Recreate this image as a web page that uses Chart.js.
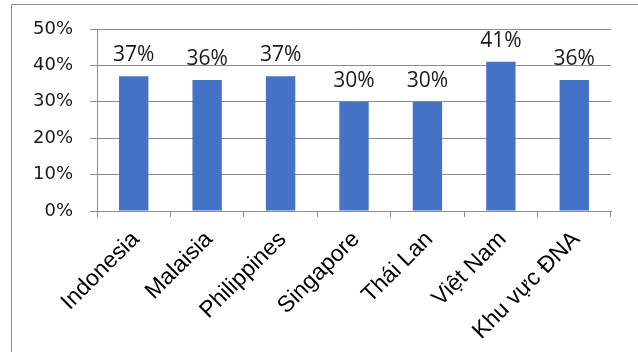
<!DOCTYPE html>
<html>
<head>
<meta charset="utf-8">
<script src="https://cdn.jsdelivr.net/npm/chart.js@4"></script>
<style>
  body { margin: 0; background: #fff; }
  canvas { display: block; }
</style>
</head>
<body>
<canvas id="myChart" width="638" height="352"></canvas>
<script>
const countries = ['Indonesia', 'Malaisia', 'Philippines', 'Singapore', 'Thái Lan', 'Việt Nam', 'Khu vực ĐNA'];
const shares = [37, 36, 37, 30, 30, 41, 36];
const yTicks = [0, 10, 20, 30, 40, 50];

const barBlue = '#4472C4';
const lineGray = '#8c8c8c';

// frame around the chart, it runs off the right and bottom of the picture
const framePlugin = {
    id: 'frame',
    beforeDraw(chart) {
        const c = chart.ctx;
        c.save();
        c.strokeStyle = '#8a8a8a';
        c.lineWidth = 1;
        c.beginPath();
        c.moveTo(11.5, chart.height);
        c.lineTo(11.5, 4.5);
        c.lineTo(chart.width, 4.5);
        c.stroke();
        c.restore();
    }
};

// percentage labels above each bar
const valueLabels = {
    id: 'valueLabels',
    afterDatasetsDraw(chart) {
        const c = chart.ctx;
        const meta = chart.getDatasetMeta(0);
        c.save();
        c.font = '21px "Open Sans"';
        c.fillStyle = '#1a1a1a';
        c.textAlign = 'center';
        c.textBaseline = 'alphabetic';
        meta.data.forEach((bar, i) => {
            c.fillText(shares[i] + '%', bar.x, bar.y - 15);
        });
        c.restore();
    }
};

const ctx = document.getElementById('myChart');

const myChart = new Chart(ctx, {
    type: 'bar',
    data: {
        labels: countries,
        datasets: [
            {
                data: shares,
                backgroundColor: barBlue,
                borderWidth: 0,
                categoryPercentage: 1,
                barPercentage: 0.4
            }
        ]
    },
    options: {
        responsive: false,
        animation: false,
        layout: {
            padding: { left: 0, top: 29, right: 27, bottom: 0 }
        },
        plugins: {
            legend: { display: false },
            tooltip: { enabled: false }
        },
        scales: {
            y: {
                min: 0,
                max: 50,
                afterFit(scale) { scale.width = 97; },
                afterBuildTicks(scale) {
                    scale.ticks = yTicks.map(v => ({ value: v }));
                },
                ticks: {
                    padding: 17,
                    color: '#1a1a1a',
                    font: { family: 'DejaVu Sans', size: 18 },
                    callback: v => v + '%'
                },
                grid: {
                    color: lineGray,
                    tickLength: 7
                },
                border: { display: true, color: lineGray }
            },
            x: {
                afterFit(scale) { scale.height = 141; },
                ticks: {
                    minRotation: 45,
                    maxRotation: 45,
                    padding: 9,
                    labelOffset: 2,
                    color: '#000',
                    font: { family: 'Liberation Sans', size: 23 }
                },
                grid: {
                    offset: true,
                    drawOnChartArea: false,
                    color: lineGray,
                    tickLength: 6
                },
                border: { display: true, color: lineGray }
            }
        }
    },
    plugins: [framePlugin, valueLabels]
});
</script>
</body>
</html>
